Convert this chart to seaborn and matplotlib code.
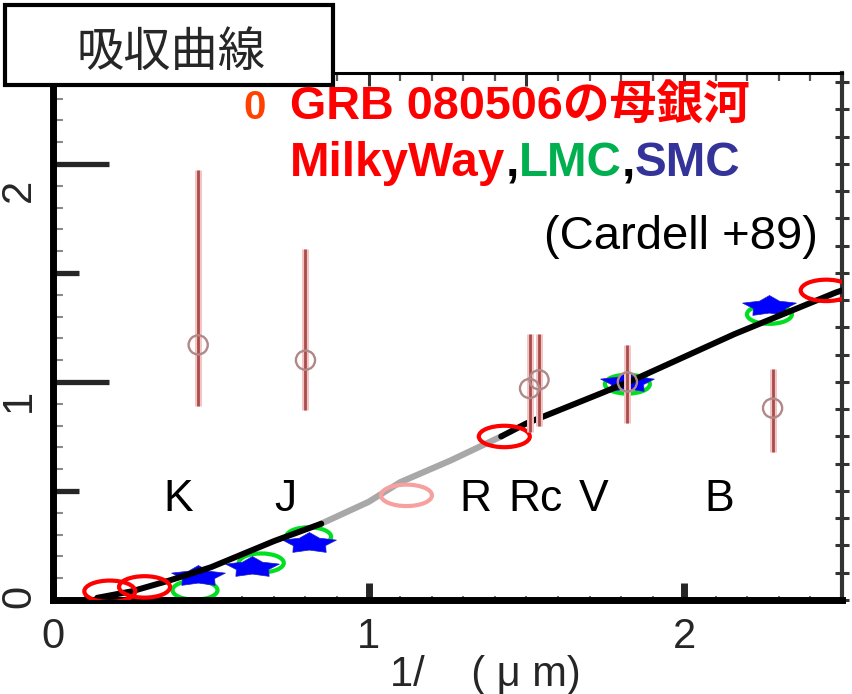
import numpy as np
import pandas as pd
import matplotlib
matplotlib.use("Agg")
import matplotlib.pyplot as plt
import seaborn as sns
from matplotlib.path import Path
from matplotlib.patches import Rectangle
from matplotlib.transforms import Affine2D, ScaledTranslation
from matplotlib.ticker import MultipleLocator, FixedLocator, NullFormatter

# ---------------- data ----------------
bands = ["K", "J", "R", "Rc", "V", "B"]
inv_wavelength = [0.46, 0.80, 1.51, 1.54, 1.82, 2.28]
extinction = [1.17, 1.10, 0.97, 1.01, 1.00, 0.88]
ext_low = [0.89, 0.87, 0.77, 0.80, 0.81, 0.68]
ext_high = [1.97, 1.61, 1.22, 1.22, 1.17, 1.06]

# Cardelli et al. 1989 extinction curve
curve_ir_x = [0.14, 0.25, 0.37, 0.50, 0.60, 0.70, 0.85]
curve_ir_y = [0.01, 0.04, 0.09, 0.15, 0.21, 0.27, 0.35]
curve_gap_x = [0.85, 1.00, 1.10, 1.26, 1.42]
curve_gap_y = [0.35, 0.45, 0.54, 0.64, 0.75]
curve_opt_x = [1.42, 1.50, 1.74, 1.84, 2.16, 2.48, 2.50]
curve_opt_y = [0.75, 0.81, 0.95, 1.01, 1.22, 1.41, 1.42]

mw_x = [0.18, 0.29, 1.43, 2.45]
mw_y = [0.04, 0.06, 0.75, 1.42]
mw_faint_x = [1.12]
mw_faint_y = [0.48]
lmc_x = [0.45, 0.66, 0.81, 1.82, 2.27]
lmc_y = [0.045, 0.17, 0.29, 0.99, 1.31]
smc_x = [0.46, 0.63, 0.81, 1.82, 2.27]
smc_y = [0.11, 0.15, 0.26, 1.00, 1.35]

x_ticks = [0, 1, 2]
y_ticks = [0, 1, 2]
x_ticklabels = ["0", "1", "2"]
y_ticklabels = ["0", "1", "2"]

# ---------------- style ----------------
sns.set_style("white")
FAM = ["Liberation Sans", "Noto Sans CJK JP", "DejaVu Sans"]
plt.rcParams["font.family"] = FAM

W, H = 853, 694
fig = plt.figure(figsize=(W / 100, H / 100), dpi=100)
ax = fig.add_axes([53 / W, (H - 600) / H, (842 - 53) / W, (600 - 73) / H])
ax.set_xlim(0, 2.5)
ax.set_ylim(0, 2.417)

# ---------------- marks ----------------
df_ir = pd.DataFrame({"x": curve_ir_x, "y": curve_ir_y})
df_gap = pd.DataFrame({"x": curve_gap_x, "y": curve_gap_y})
df_opt = pd.DataFrame({"x": curve_opt_x, "y": curve_opt_y})

ell = Path.unit_circle().transformed(Affine2D().scale(1.0, 0.42))
star = Path.unit_regular_star(5, 0.6).transformed(Affine2D().scale(1.6, 0.62))

sns.scatterplot(x=lmc_x, y=lmc_y, ax=ax, marker=ell, s=1050, facecolor="none",
                edgecolor="#00e020", linewidth=3, zorder=2)
sns.scatterplot(x=smc_x, y=smc_y, ax=ax, marker=star, s=1500, color="#0000ff",
                edgecolor="#2020c0", linewidth=0.5, zorder=3)

sns.lineplot(data=df_gap, x="x", y="y", ax=ax, color="#a8a8a8", linewidth=4.5,
             sort=False, zorder=4)
sns.lineplot(data=df_ir, x="x", y="y", ax=ax, color="black", linewidth=4.3,
             sort=False, zorder=4)
sns.lineplot(data=df_opt, x="x", y="y", ax=ax, color="black", linewidth=4.3,
             sort=False, zorder=4)

sns.scatterplot(x=mw_x, y=mw_y, ax=ax, marker=ell, s=1350, facecolor="none",
                edgecolor="#ff0000", linewidth=3, zorder=5)
sns.scatterplot(x=mw_faint_x, y=mw_faint_y, ax=ax, marker=ell, s=1350, facecolor="none",
                edgecolor="#f7a0a0", linewidth=3, zorder=5)

ax.vlines(inv_wavelength, ext_low, ext_high, color="#f3c4c4", linewidth=5.0, zorder=6)
ax.vlines(inv_wavelength, ext_low, ext_high, color="#a84c4c", linewidth=2.0, zorder=7)
sns.scatterplot(x=inv_wavelength, y=extinction, ax=ax, marker="o", s=190,
                facecolor="none", edgecolor="#b08888", linewidth=1.7, zorder=8)

# band labels
band_label_x = [0.397, 0.737, 1.337, 1.53, 1.714, 2.11]
for b, bx in zip(bands, band_label_x):
    ax.text(bx, 0.459, b, fontsize=32, ha="center", va="center", color="black", zorder=9)

# ---------------- axes decoration ----------------
for side, lw, col in [("left", 5, "black"), ("bottom", 5, "black"),
                      ("top", 2.2, "black"), ("right", 3, "#333333")]:
    ax.spines[side].set_linewidth(lw)
    ax.spines[side].set_color(col)
    ax.spines[side].set_visible(True)

ax.xaxis.set_major_locator(FixedLocator(x_ticks))
ax.set_xticklabels(x_ticklabels)
ax.yaxis.set_major_locator(FixedLocator(y_ticks))
ax.set_yticklabels(y_ticklabels)
ax.yaxis.set_minor_locator(FixedLocator([0.5, 1.5]))
ax.xaxis.set_minor_locator(MultipleLocator(0.1))

ax.tick_params(axis="y", which="major", direction="in", length=40, width=3.8,
               left=True, right=False, labelsize=30, pad=10, labelrotation=90)
ax.tick_params(axis="y", which="minor", direction="in", length=19, width=3.8,
               left=True, right=False)
ax.tick_params(axis="x", which="major", direction="in", length=12, width=5,
               bottom=True, top=False, labelsize=30, pad=12)
ax.tick_params(axis="x", which="minor", direction="inout", length=6, width=1.5,
               color="#777777", bottom=True, top=False)
ytick_label_shift_px = [-4, 18, 26]
for lab, dy in zip(ax.get_yticklabels(), ytick_label_shift_px):
    lab.set_va("center")
    lab.set_transform(lab.get_transform() +
                      ScaledTranslation(0, -dy / 100, fig.dpi_scale_trans))

# extra fine ticks via secondary axes
sec_left = ax.secondary_yaxis("left")
sec_left.set_yticks(np.arange(0, 2.45, 0.1))
sec_left.yaxis.set_major_formatter(NullFormatter())
sec_left.tick_params(direction="in", length=7, width=1.5, color="#8a8a8a")
sec_left.spines["left"].set_visible(False)

sec_right = ax.secondary_yaxis("right")
sec_right.set_yticks(np.arange(0, 2.45, 0.125))
sec_right.yaxis.set_major_formatter(NullFormatter())
sec_right.tick_params(direction="inout", length=10, width=2.2, color="#333333")
sec_right.spines["right"].set_visible(False)

sec_top = ax.secondary_xaxis("top")
sec_top.set_xticks(np.arange(0, 2.51, 0.5))
sec_top.xaxis.set_minor_locator(MultipleLocator(0.1))
sec_top.xaxis.set_major_formatter(NullFormatter())
sec_top.tick_params(which="major", direction="in", length=9, width=2.2, color="#333333")
sec_top.tick_params(which="minor", direction="in", length=6, width=1.6, color="#555555")
sec_top.spines["top"].set_visible(False)

ax.set_xlabel("")
ax.set_ylabel("")
fig.text(485 / W, 1 - 675 / H, "1/    ( μ m)", fontsize=30, ha="center", va="center")

# ---------------- title box ----------------
fig.add_artist(Rectangle((5 / W, 1 - 85 / H), 328 / W, 80 / H, transform=fig.transFigure,
                         facecolor="white", edgecolor="black", linewidth=3, zorder=20))
fig.text(171 / W, 1 - 53 / H, "吸収曲線", fontsize=34, ha="center", va="center",
         family=["Noto Sans CJK JP", "DejaVu Sans"], zorder=21)

# ---------------- legend-like text ----------------
fig.text(255 / W, 1 - 108 / H, "0", fontsize=29, color="#ff4000", fontweight="bold",
         ha="center", va="center", zorder=21)
fig.text(290 / W, 1 - 108 / H, "GRB 080506の母銀河", fontsize=33.7, color="#ff0000",
         fontweight="bold", ha="left", va="center", zorder=21)

fig.canvas.draw()
renderer = fig.canvas.get_renderer()
parts = [("MilkyWay", "#ff0000"), (",", "#000000"), ("LMC", "#00b050"),
         (",", "#000000"), ("SMC", "#333399")]
xcur = 290
for s, c in parts:
    t = fig.text(xcur / W, 1 - 163 / H, s, fontsize=34.3, color=c, fontweight="bold",
                 ha="left", va="center", zorder=21)
    bb = t.get_window_extent(renderer=renderer)
    xcur += bb.width

fig.text(818 / W, 1 - 237 / H, "(Cardell +89)", fontsize=34, color="black",
         ha="right", va="center", zorder=21)

fig.savefig("out.png", dpi=100)
